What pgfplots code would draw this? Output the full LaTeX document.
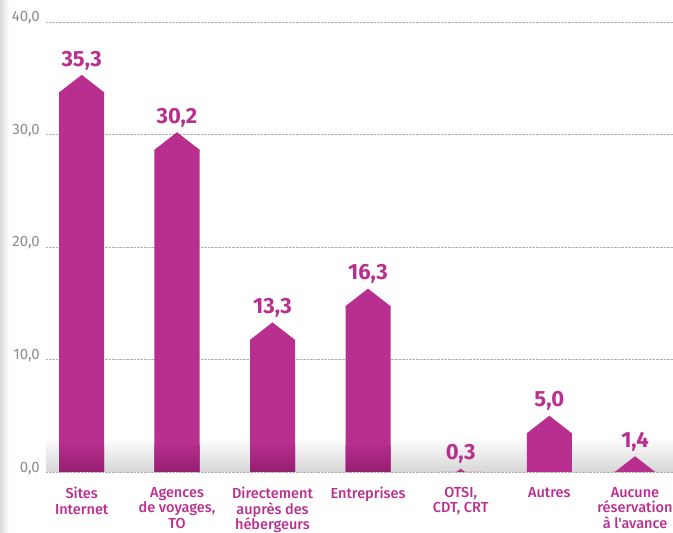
\documentclass[border=0pt]{standalone}
\usepackage{pgfplots}
\pgfplotsset{compat=1.18}
\usepackage{pgfplotstable}
\usepackage{fontspec}
\setmainfont{Fira Sans}
\newfontfamily\firamed{Fira Sans Medium}
\definecolor{barc}{RGB}{185,47,143}
\definecolor{barcdark}{RGB}{150,30,112}
\definecolor{tickc}{RGB}{140,140,140}
\definecolor{gridc}{RGB}{175,175,175}
\pgfdeclareplotmark{peak}{%
  \pgfpathmoveto{\pgfpoint{-22.5bp}{-18.5bp}}%
  \pgfpathlineto{\pgfpoint{-22.5bp}{-17.5bp}}%
  \pgfpathlineto{\pgfpoint{0bp}{0bp}}%
  \pgfpathlineto{\pgfpoint{22.5bp}{-17.5bp}}%
  \pgfpathlineto{\pgfpoint{22.5bp}{-18.5bp}}%
  \pgfpathclose
  \pgfusepath{fill}}
\pgfplotstableread{
x      v
81.7   35.3
177    30.2
272.5  13.3
368    16.3
460.7  0.3
549.3  5.0
635    1.4
}\data
\pgfplotstableread{
x      v
81.7   2.4
177    2.4
272.5  2.4
368    2.4
}\base
\begin{document}
\begin{tikzpicture}
\useasboundingbox (0,0) rectangle (673bp,533bp);
\shade[left color=black!14, right color=white] (0,0) rectangle (9bp,533bp);
\begin{axis}[
  at={(46bp,61bp)}, anchor=south west,
  x=1bp, y=11.25bp,
  xmin=46, xmax=673, ymin=0, ymax=40,
  axis line style={draw=none},
  major tick length=0pt,
  ytick={0,10,20,30,40},
  ymajorgrids,
  grid style={densely dotted, gridc, line width=0.6bp},
  yticklabel style={font=\fontsize{15bp}{17bp}\selectfont, color=tickc, anchor=base east, inner sep=0pt, xshift=-6bp},
  /pgf/number format/.cd, fixed, fixed zerofill, precision=1, use comma, assume math mode=true,
  /pgfplots/.cd,
  xtick={81.7,177,272.5,368,460.7,549.3,635},
  xticklabels={{Sites\\Internet},{Agences\\de voyages,\\TO},{Directement\\auprès des\\hébergeurs},{Entreprises},{OTSI,\\CDT, CRT},{Autres},{Aucune\\réservation\\à l'avance}},
  xticklabel style={font=\firamed\fontsize{14.5bp}{15.5bp}\selectfont, color=barc, align=center, anchor=north, inner sep=0pt, yshift=-15bp},
  clip marker paths=true,
]
\shade[blend mode=multiply, top color=white, bottom color=black!16] (axis cs:46,0) rectangle (axis cs:673,3.1);
\addplot[ybar, bar width=45bp, fill=barc, draw=none] table[x=x, y expr=\thisrow{v}-1.556]{\data};
\addplot[ybar, bar width=45bp, top color=barc!97!black, bottom color=barcdark, draw=none, shading=axis] table[x=x, y=v]{\base};
\addplot[only marks, mark=peak, mark options={fill=barc, draw=none},
  nodes near coords,
  nodes near coords style={font=\fontsize{22bp}{24bp}\selectfont\bfseries, color=barc, anchor=base, inner sep=0pt, yshift=8.8bp},
] table[x=x, y=v]{\data};
\end{axis}
\end{tikzpicture}
\end{document}
